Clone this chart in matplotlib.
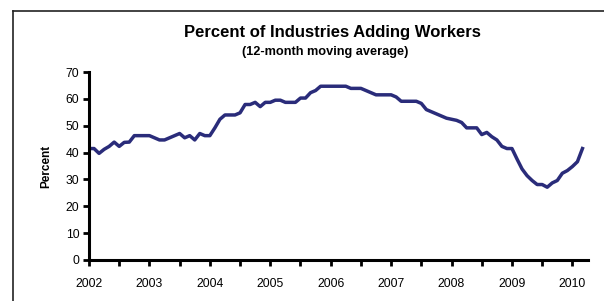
import matplotlib
matplotlib.use("Agg")
import matplotlib.pyplot as plt
from matplotlib.lines import Line2D

# ── 数据（月度，2002-01 起）──────────────────────────────────────────────────
pct_adding = [
    41.5, 41.5, 39.7, 41.2, 42.3, 43.9, 42.3, 43.8, 43.9, 46.3, 46.3, 46.3,   # 2002
    46.3, 45.5, 44.7, 44.7, 45.5, 46.3, 47.1, 45.5, 46.3, 44.7, 47.1, 46.3,   # 2003
    46.3, 49.2, 52.4, 54.0, 54.0, 54.0, 54.8, 57.9, 57.9, 58.7, 57.1, 58.7,   # 2004
    58.7, 59.5, 59.5, 58.7, 58.7, 58.7, 60.3, 60.3, 62.3, 63.1, 64.7, 64.7,   # 2005
    64.7, 64.7, 64.7, 64.7, 63.9, 63.9, 63.9, 63.1, 62.3, 61.5, 61.5, 61.5,   # 2006
    61.5, 60.7, 59.1, 59.1, 59.1, 59.1, 58.3, 56.0, 55.2, 54.4, 53.6, 52.8,   # 2007
    52.4, 52.0, 51.2, 49.2, 49.2, 49.2, 46.7, 47.5, 45.9, 44.7, 42.3, 41.5,   # 2008
    41.5, 37.6, 33.9, 31.4, 29.6, 28.1, 28.1, 27.1, 28.7, 29.6, 32.3, 33.3,   # 2009
    34.8, 36.6, 41.5,                                                         # 2010
]
months = list(range(len(pct_adding)))
year_labels = [str(y) for y in range(2002, 2011)]
y_ticks = [0, 10, 20, 30, 40, 50, 60, 70]

plt.rcParams["font.family"] = ["Liberation Sans", "DejaVu Sans"]

fig = plt.figure(figsize=(6.04, 3.01), dpi=100)
ax = fig.add_axes([89 / 604, 41 / 301, 499 / 604, 188 / 301])

ax.plot(months, pct_adding, color="#2a2c7a", linewidth=2.5, solid_joinstyle="round")

ax.set_xlim(0, 99.1)
ax.set_ylim(0, 70)
ax.set_yticks(y_ticks)
ax.set_xticks([12 * i for i in range(len(year_labels))])
ax.set_xticklabels(year_labels)
ax.set_xticks([12 * i + 6 for i in range(len(year_labels) - 1)], minor=True)

for side in ["top", "right"]:
    ax.spines[side].set_visible(False)
for side in ["left", "bottom"]:
    ax.spines[side].set_linewidth(2.2)
    ax.spines[side].set_color("black")

ax.tick_params(axis="both", which="both", direction="out", width=2.0, length=4,
               labelsize=8.7, colors="black")
ax.tick_params(axis="x", which="major", pad=9)
ax.tick_params(axis="y", pad=3)

ax.set_ylabel("Percent", fontsize=8.5, fontweight="bold", labelpad=10)

fig.text(332 / 604, 1 - 32.5 / 301, "Percent of Industries Adding Workers",
         ha="center", va="center", fontsize=12, fontweight="bold")
fig.text(325 / 604, 1 - 52.5 / 301, "(12-month moving average)",
         ha="center", va="center", fontsize=9.2, fontweight="bold")

# 外框
fig.add_artist(Line2D([12.5 / 604, 12.5 / 604], [0, 1 - 10.5 / 301],
                      transform=fig.transFigure, color="#222222", linewidth=1.2))
fig.add_artist(Line2D([12.5 / 604, 1], [1 - 10.5 / 301, 1 - 10.5 / 301],
                      transform=fig.transFigure, color="#222222", linewidth=1.2))

fig.savefig("out.png", dpi=100)
